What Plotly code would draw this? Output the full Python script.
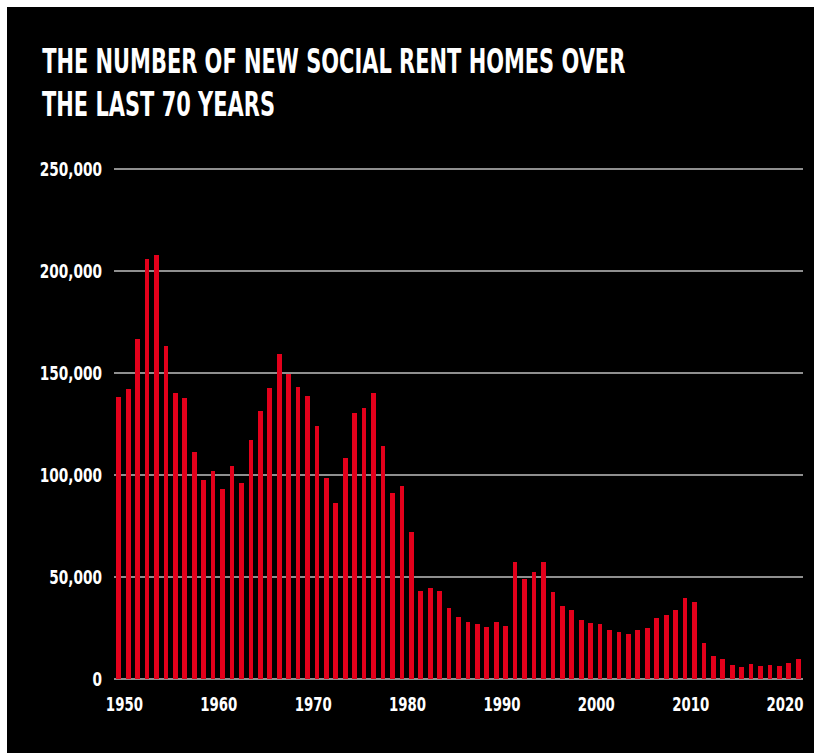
import plotly.graph_objects as go

years = list(range(1950, 2023))
homes = [
    138300, 142000, 166700, 205800, 207700, 163100, 140200, 137800, 111200, 97500,
    101900, 93100, 104600, 96000, 117100, 131200, 142700, 159200, 149600, 143000,
    138700, 124000, 98500, 86200, 108300, 130400, 132800, 140200, 114200, 91100,
    94500, 72000, 43000, 44500, 43000, 34700, 30300, 27800, 26800, 25400,
    27800, 25800, 57200, 48900, 52300, 57200, 42500, 35700, 33700, 28800,
    27400, 26900, 23900, 23000, 22000, 23900, 24900, 29800, 31300, 33700,
    39600, 37600, 17600, 11200, 9800, 6800, 5900, 7300, 6400, 6800,
    6400, 7800, 9800,
]
y_ticks = [0, 50000, 100000, 150000, 200000, 250000]
x_ticks = [1950, 1960, 1970, 1980, 1990, 2000, 2010, 2020]
title_lines = ["THE NUMBER OF NEW SOCIAL RENT HOMES OVER", "THE LAST 70 YEARS"]

FONT = "DejaVu Sans Condensed, DejaVu Sans"
W, H = 814, 753
L, R, T, B = 114, 11, 165, 74
pw, ph = W - L - R, H - T - B
ymax = 250000 * ph / (ph - 4)

fig = go.Figure(go.Bar(
    x=years, y=homes, width=0.5,
    marker=dict(color="#E3001B", line=dict(width=0)),
))

fig.update_layout(
    width=W, height=H,
    margin=dict(l=L, r=R, t=T, b=B, autoexpand=False),
    paper_bgcolor="black", plot_bgcolor="black",
    showlegend=False,
    bargap=0,
    xaxis=dict(
        range=[1949.5, 2022.5],
        tickvals=[v + 0.6 for v in x_ticks],
        ticktext=[str(v) for v in x_ticks],
        showgrid=False, zeroline=False, showline=False,
        ticks="", ticklabelstandoff=12, automargin=False,
        tickfont=dict(family=FONT, size=19, color="white", weight="bold"),
    ),
    yaxis=dict(
        range=[0, ymax],
        tickvals=y_ticks,
        tickformat=",d",
        showgrid=True, gridcolor="#8f8f8f", gridwidth=1.5,
        zeroline=True, zerolinecolor="#8f8f8f", zerolinewidth=1.5,
        showline=False, ticks="", ticklabelstandoff=11, automargin=False,
        tickfont=dict(family=FONT, size=19, color="white", weight="bold"),
    ),
    shapes=[
        dict(type="rect", xref="paper", yref="paper", xsizemode="pixel", xanchor=0,
             x0=-L - 2, x1=-L + 7, y0=-1, y1=2, fillcolor="white", line=dict(width=0)),
        dict(type="rect", xref="paper", yref="paper", ysizemode="pixel", yanchor=1,
             x0=-1, x1=2, y0=T + 2, y1=T - 7, fillcolor="white", line=dict(width=0)),
    ],
)

for i, line in enumerate(title_lines):
    fig.add_annotation(
        text=line, xref="paper", yref="paper",
        x=(40 - L) / pw, y=(H - B - (39 + 43 * i)) / ph,
        xanchor="left", yanchor="top", showarrow=False,
        font=dict(family=FONT, size=34, color="white", weight="bold"),
    )

# horizontally condense text (the reference uses a condensed display face)
post = """
(function(){
  var gd = document.getElementById('{plot_id}');
  function squeeze(sel, s, mode){
    gd.querySelectorAll(sel).forEach(function(t){
      var bb = t.getBBox();
      var ax = bb.x;
      if (mode === 'right') ax = bb.x + bb.width;
      else if (mode === 'center') ax = bb.x + bb.width / 2;
      var prev = t.getAttribute('transform') || '';
      t.setAttribute('transform', prev + ' translate(' + (ax * (1 - s)) + ',0) scale(' + s + ',1)');
    });
  }
  squeeze('.annotation-text', 0.685, 'left');
  squeeze('.ytick text', 0.8, 'right');
  squeeze('.xtick text', 0.78, 'center');
})();
"""

fig.write_html("out.html", post_script=post)
